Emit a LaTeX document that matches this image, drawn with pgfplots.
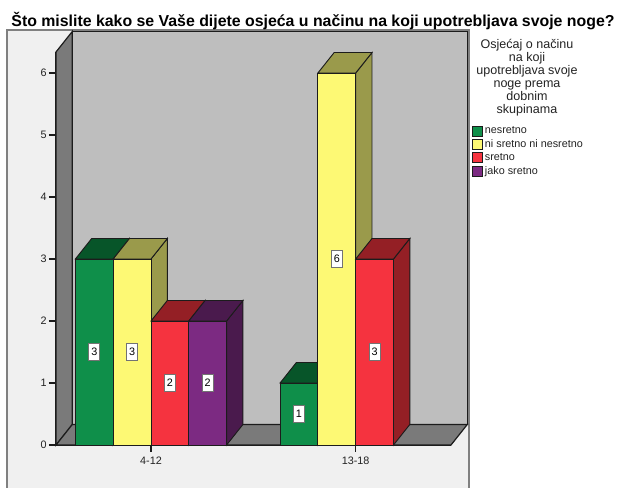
\documentclass[border=0pt]{standalone}
\usepackage{fontspec}
\setmainfont{Liberation Sans}
\usepackage{pgfplots}
\pgfplotsset{compat=1.18}
\definecolor{cbg}{HTML}{F0F0F0}
\definecolor{cborder}{HTML}{808080}
\definecolor{cwall}{HTML}{BEBEBE}
\definecolor{cside}{HTML}{7A7A7A}
\definecolor{cedge}{HTML}{1C1C1C}
\definecolor{ctxt}{HTML}{222222}
\definecolor{cgreen}{HTML}{0F8F4A}
\definecolor{cgreenS}{HTML}{075529}
\definecolor{cyellow}{HTML}{FDF974}
\definecolor{cyellowS}{HTML}{9A9A4B}
\definecolor{cred}{HTML}{F5333F}
\definecolor{credS}{HTML}{941F25}
\definecolor{cpurple}{HTML}{7C2A82}
\definecolor{cpurpleS}{HTML}{4A1A4D}
\def\bw{0.1847}
\def\ddx{0.0796}
\def\ddy{0.3306}
% \tdbar{category}{slot}{value}{front colour}{shade colour}
\newcommand\tdbar[5]{%
  \pgfmathsetmacro\xa{#1+(#2)*\bw}%
  \pgfmathsetmacro\xb{\xa+\bw}%
  \pgfmathsetmacro\xc{\xb+\ddx}%
  \pgfmathsetmacro\xd{\xa+\ddx}%
  \pgfmathsetmacro\yt{#3+\ddy}%
  \pgfmathsetmacro\xm{\xa+\bw/2}%
  \pgfmathsetmacro\ym{#3/2}%
  \edef\tmp{%
    \noexpand\addplot[forget plot,fill=#5,draw=cedge,line width=0.7pt] coordinates {(\xb,0) (\xc,\ddy) (\xc,\yt) (\xb,#3)} --cycle;
    \noexpand\addplot[forget plot,fill=#5,draw=cedge,line width=0.7pt] coordinates {(\xa,#3) (\xd,\yt) (\xc,\yt) (\xb,#3)} --cycle;
    \noexpand\addplot[forget plot,fill=#4,draw=cedge,line width=0.7pt] coordinates {(\xa,0) (\xa,#3) (\xb,#3) (\xb,0)} --cycle;
    \noexpand\addplot[forget plot,barlabel] coordinates {(\xm,\ym)[#3]};
  }\tmp}
\pgfplotsset{barlabel/.style={only marks,mark=none,point meta=explicit symbolic,
  nodes near coords,
  every node near coord/.style={anchor=center,fill=white,draw=black!55,line width=0.75pt,
    inner sep=0pt,minimum width=8.25pt,minimum height=12.75pt,font=\fontsize{8.1pt}{9pt}\selectfont,text=black}}}
\begin{document}
\begin{tikzpicture}
\path[use as bounding box] (0,0) rectangle (462.75pt,366pt);
\fill[cbg] (5.25pt,0) rectangle (351.75pt,343.5pt);
\draw[cborder,line width=1pt] (5.25pt,0) -- (5.25pt,343.5pt) -- (351.75pt,343.5pt) -- (351.75pt,0);
\begin{axis}[
  at={(42pt,32.25pt)},anchor=south west,
  scale only axis,width=296.25pt,height=294.75pt,
  xmin=-0.4641,xmax=1.4656,ymin=0,ymax=6.339,
  clip=false,
  axis x line=bottom,axis y line=left,
  axis line style={-,cedge,line width=0.8pt},
  xtick={0,1},xticklabels={4-12,13-18},
  ytick={0,1,2,3,4,5,6},
  tick align=outside,major tick length=5.25pt,
  tick style={cedge,line width=0.8pt},
  /pgf/number format/assume math mode=true,
  tick label style={font=\fontsize{8.1pt}{9pt}\selectfont,text=ctxt},
  yticklabel style={xshift=1.8pt},
  title={\fontsize{11.9pt}{13pt}\selectfont\bfseries Što mislite kako se Vaše dijete osjeća u načinu na koji upotrebljava svoje noge?},
  title style={at={(rel axis cs:0.6506,1.059)},anchor=center,inner sep=0pt},
  legend style={at={(rel axis cs:1.0532,0.813)},anchor=north west,draw=none,fill=none,
    inner sep=0pt,row sep=1.7pt,font=\fontsize{8.1pt}{9pt}\selectfont,text=ctxt,
    nodes={inner sep=0pt}},
  legend cell align=left,
]
% walls
\addplot[forget plot,fill=cwall,draw=cedge,line width=1pt] coordinates {(-0.3845,0.3306) (-0.3845,6.67) (1.5452,6.67) (1.5452,0.3306)} --cycle;
\addplot[forget plot,fill=cside,draw=cedge,line width=0.9pt] coordinates {(-0.4641,0) (-0.3845,0.3306) (-0.3845,6.67) (-0.4641,6.339)} --cycle;
\addplot[forget plot,fill=cside,draw=cedge,line width=0.9pt] coordinates {(-0.4641,0) (-0.3845,0.3306) (1.5452,0.3306) (1.4656,0)} --cycle;
% bars: 4-12
\tdbar{0}{-2}{3}{cgreen}{cgreenS}
\tdbar{0}{-1}{3}{cyellow}{cyellowS}
\tdbar{0}{0}{2}{cred}{credS}
\tdbar{0}{1}{2}{cpurple}{cpurpleS}
% bars: 13-18
\tdbar{1}{-2}{1}{cgreen}{cgreenS}
\tdbar{1}{-1}{6}{cyellow}{cyellowS}
\tdbar{1}{0}{3}{cred}{credS}
% legend
\addlegendimage{legend image code/.code={\draw[draw=cedge,fill=cgreen,line width=0.8pt] (0pt,-3.75pt) rectangle (7.5pt,3.75pt);}}
\addlegendentry{\hspace{1.2pt}nesretno}
\addlegendimage{legend image code/.code={\draw[draw=cedge,fill=cyellow,line width=0.8pt] (0pt,-3.75pt) rectangle (7.5pt,3.75pt);}}
\addlegendentry{\hspace{1.2pt}ni sretno ni nesretno}
\addlegendimage{legend image code/.code={\draw[draw=cedge,fill=cred,line width=0.8pt] (0pt,-3.75pt) rectangle (7.5pt,3.75pt);}}
\addlegendentry{\hspace{1.2pt}sretno}
\addlegendimage{legend image code/.code={\draw[draw=cedge,fill=cpurple,line width=0.8pt] (0pt,-3.75pt) rectangle (7.5pt,3.75pt);}}
\addlegendentry{\hspace{1.2pt}jako sretno}
\node[align=center,anchor=center,inner sep=0pt,text=ctxt,font=\fontsize{9.4pt}{9.7pt}\selectfont] at (rel axis cs:1.1924,0.935)
  {Osjećaj o načinu\\na koji\\upotrebljava svoje\\noge prema\\dobnim\\skupinama};
\end{axis}
\end{tikzpicture}
\end{document}
